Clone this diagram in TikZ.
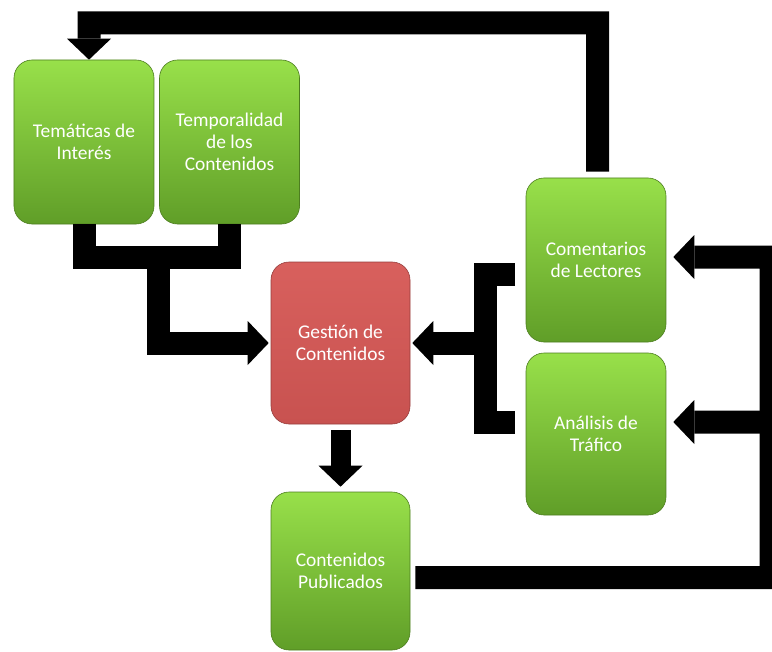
\documentclass[tikz,border=0pt]{standalone}
\usepackage{fontspec}
\setmainfont{Carlito}
\usetikzlibrary{arrows.meta,calc}
\definecolor{boxtop}{RGB}{152,224,74}
\definecolor{boxbot}{RGB}{96,158,40}
\definecolor{redtop}{RGB}{216,96,93}
\definecolor{redbot}{RGB}{200,82,80}
\begin{document}
\begin{tikzpicture}[x=1bp,y=-1bp,
  box/.style={rounded corners=18bp, minimum width=140bp, minimum height=164bp,
    inner sep=0pt, align=center, text=white, font=\fontsize{19.5}{22}\selectfont,
    top color=boxtop, bottom color=boxbot, draw=boxbot!80!black, line width=0.6bp},
  hub/.style={box, top color=redtop, bottom color=redbot, draw=redbot!75!black},
  bar/.style={line width=23bp, black},
  flow/.style={bar, -{Triangle[width=44bp,length=21bp,line width'=0pt]}}]
\useasboundingbox (0,0) rectangle (772,652);
\clip (0,0) rectangle (772,652);

% process boxes
\node[box] (tem) at (84,142) {Temáticas de\\Interés};
\node[box] (tmp) at (229.5,142) {Temporalidad\\de los\\Contenidos};
\node[hub, minimum width=139bp, minimum height=162bp] (ges) at (340.5,343) {Gestión de\\Contenidos};
\node[box, minimum width=139bp, minimum height=158bp] (pub) at (340.5,571) {Contenidos\\Publicados};
\node[box] (com) at (596,260) {Comentarios\\de Lectores};
\node[box, minimum height=162bp] (ana) at (596,434) {Análisis de\\Tráfico};

% reader comments feed back into the topics
\draw[flow] ([xshift=1.5bp,yshift=6bp]com.north) |- (89,23) -- ([xshift=5bp]tem.north);

% topics and timing merge into content management
\draw[bar] (tem.south) -- ++(0,33) -| (tmp.south);
\coordinate (join) at ($(tem.south)!0.5!(tmp.south)+(1.5,33)$);
\draw[flow] (join) |- ([xshift=-2bp]ges.west);

% comments and traffic analysis merge into content management
\coordinate (brT) at (515,274.5);
\coordinate (brM) at (485,343);
\coordinate (brB) at (515,422.5);
\draw[bar] (brT) -| (brM) |- (brB);
\draw[flow] (brM) -- ([xshift=2bp]ges.east);

% management publishes content
\draw[flow, line width=20bp] ([yshift=-6bp]ges.south) -- ([yshift=5bp]pub.north);

% published content feeds comments and traffic analysis
\coordinate (fbR) at (771,422);
\draw[flow] ([xshift=5bp,yshift=-6.5bp]pub.east) -| (771,257) -- ([xshift=7bp,yshift=3bp]com.east);
\draw[flow] (fbR) -- ([xshift=7bp,yshift=12bp]ana.east);
\end{tikzpicture}
\end{document}
